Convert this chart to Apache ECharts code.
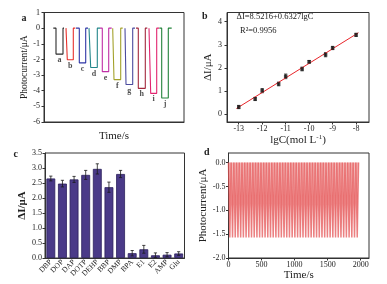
<!DOCTYPE html>
<html>
<head>
<meta charset="utf-8">
<script src="https://cdn.jsdelivr.net/npm/echarts@6/dist/echarts.min.js"></script>
<style>
  html, body { margin: 0; padding: 0; background: #fff; }
  #chart { width: 387px; height: 284px; }
</style>
</head>
<body>
<div id="chart"></div>
<script>
// panel a: photocurrent steps (time axis in arbitrary units)
const aLetters = ['a', 'b', 'c', 'd', 'e', 'f', 'g', 'h', 'i', 'j'];
const aStart = [9.3, 22, 32, 45, 56, 68.7, 81, 92, 105, 115.3];
const aOn = [12, 23.3, 35.3, 46.7, 58.3, 70, 82, 94.3, 106.7, 117.7];
const aOff = [19, 29.3, 41.7, 53.3, 64.7, 76.7, 88.7, 101.3, 112.7, 124.3];
const aEnd = [20, 31.3, 44, 56, 67.7, 78.7, 91, 103.3, 115, 127.7];
const aLevel = [-1.66, -2.02, -2.22, -2.52, -2.78, -3.29, -3.6, -3.85, -4.17, -4.47];
const aColors = ['#2b2b2b', '#e8312c', '#2f36a6', '#23868a', '#c02fa6', '#a3a12a', '#4b4b9e', '#a2283c', '#e2246f', '#22833a'];

// panel b: calibration
const bX = [-13, -12.3, -12, -11.3, -11, -10.3, -10, -9.3, -9, -8];
const bY = [0.30, 0.65, 1.01, 1.30, 1.63, 1.95, 2.26, 2.57, 2.86, 3.43];
const bErr = [0.07, 0.07, 0.09, 0.08, 0.1, 0.08, 0.06, 0.09, 0.07, 0.07];
const bFit = { a: 8.5216, b: 0.6327, from: -13.1, to: -7.9 };

// panel c: selectivity
const cNames = ['DBP', 'DOP', 'DAP', 'DOTP', 'DEHP', 'BBP', 'DMP', 'BPA', 'E1', 'E2', 'AMP', 'Glu'];
const cVals = [2.65, 2.48, 2.62, 2.77, 2.97, 2.36, 2.80, 0.16, 0.29, 0.09, 0.11, 0.15];
const cErr = [0.08, 0.11, 0.1, 0.15, 0.17, 0.17, 0.12, 0.09, 0.13, 0.08, 0.07, 0.06];

// panel d: stability, light-on times (s)
const dOnTimes = [20, 61, 102, 143, 184, 225, 266, 307, 348, 389, 430, 471, 512, 553, 594, 635,
  676, 717, 758, 799, 840, 881, 922, 963, 1004, 1045, 1086, 1127, 1168, 1209, 1250, 1291,
  1332, 1373, 1414, 1455, 1496, 1537, 1578, 1619, 1660, 1701, 1742, 1783, 1824, 1865, 1906, 1947];
const dPulseWidth = 20;
const dLow = -1.57;

const FONT = 'Liberation Serif';
const INK = '#222';

function axisBase(gridIndex) {
    return {
        gridIndex,
        axisLine: { show: true, onZero: false, lineStyle: { color: '#333', width: 1 } },
        axisTick: { show: true, inside: false, length: 2.5, lineStyle: { color: '#333' } },
        axisLabel: { color: INK, fontFamily: FONT, fontSize: 8 },
        splitLine: { show: false },
        nameTextStyle: { color: INK, fontFamily: FONT, fontSize: 11 },
        nameLocation: 'middle'
    };
}

function errorBar(params, api) {
    const x = api.value(0);
    const top = api.coord([x, api.value(2)]);
    const bot = api.coord([x, api.value(1)]);
    const cap = 1.6;
    const style = { stroke: '#1a1a1a', lineWidth: 0.8 };
    return {
        type: 'group',
        children: [
            { type: 'line', shape: { x1: top[0], y1: top[1], x2: bot[0], y2: bot[1] }, style },
            { type: 'line', shape: { x1: top[0] - cap, y1: top[1], x2: top[0] + cap, y2: top[1] }, style },
            { type: 'line', shape: { x1: bot[0] - cap, y1: bot[1], x2: bot[0] + cap, y2: bot[1] }, style }
        ]
    };
}

const gridStyle = { show: true, borderColor: '#333', borderWidth: 1, backgroundColor: 'transparent' };

// series for a
const aSeries = aLetters.map((l, i) => ({
    type: 'line', xAxisIndex: 0, yAxisIndex: 0, symbol: 'none',
    lineStyle: { color: aColors[i], width: 1.1 },
    data: [[aStart[i], 0], [aOn[i], 0], [aOn[i], aLevel[i]], [aOff[i], aLevel[i]], [aOff[i], 0], [aEnd[i], 0]]
}));
aSeries.push({
    type: 'scatter', xAxisIndex: 0, yAxisIndex: 0, symbolSize: 0,
    data: aLetters.map((l, i) => ({ name: l, value: [(aOn[i] + aOff[i]) / 2, aLevel[i]] })),
    label: { show: true, position: 'bottom', distance: 2, formatter: p => p.name,
             color: INK, fontFamily: FONT, fontSize: 8, fontWeight: 'bold' }
});

// series for d
const dData = [[0, 0]];
dOnTimes.forEach(t => {
    dData.push([t, 0], [t, dLow], [t + dPulseWidth, dLow], [t + dPulseWidth, 0]);
});

const option = {
    animation: false,
    backgroundColor: '#fff',
    grid: [
        Object.assign({ left: 44, top: 12.5, width: 140, height: 109.5 }, gridStyle),
        Object.assign({ left: 227, top: 12.5, width: 142, height: 109.5 }, gridStyle),
        Object.assign({ left: 45, top: 153, width: 139.5, height: 105 }, gridStyle),
        Object.assign({ left: 228.5, top: 153, width: 140.5, height: 105 }, gridStyle)
    ],
    xAxis: [
        Object.assign(axisBase(0), {
            type: 'value', min: 0, max: 140, name: 'Time/s', nameGap: 9,
            axisTick: { show: false }, axisLabel: { show: false }
        }),
        Object.assign(axisBase(1), {
            type: 'value', min: -13.5, max: -7.45, name: '{t|lgC(mol L}{s|-1}{t|)}', nameGap: 9,
            nameTextStyle: { rich: {
                t: { fontFamily: FONT, fontSize: 11, color: INK },
                s: { fontFamily: FONT, fontSize: 7, color: INK, verticalAlign: 'top', padding: [0, 0, 6, 0] }
            } },
            axisTick: { show: true, length: 2.5, customValues: [-13, -12, -11, -10, -9, -8], lineStyle: { color: '#333' } },
            axisLabel: { color: INK, fontFamily: FONT, fontSize: 8, margin: 3, customValues: [-13, -12, -11, -10, -9, -8] }
        }),
        Object.assign(axisBase(2), {
            type: 'category', data: cNames,
            axisTick: { show: false },
            axisLabel: { color: INK, fontFamily: FONT, fontSize: 7.5, rotate: 45, margin: 3, interval: 0 }
        }),
        Object.assign(axisBase(3), {
            type: 'value', min: 0, max: 2125, name: 'Time/s', nameGap: 11,
            axisTick: { show: true, length: 2.5, customValues: [0, 500, 1000, 1500, 2000], lineStyle: { color: '#333' } },
            axisLabel: { color: INK, fontFamily: FONT, fontSize: 8, margin: 3,
                         customValues: [0, 500, 1000, 1500, 2000], formatter: v => String(v) }
        })
    ],
    yAxis: [
        Object.assign(axisBase(0), {
            type: 'value', min: -6, max: 1, interval: 1, name: 'Photocurrent/μA', nameGap: 14,
            nameTextStyle: { color: INK, fontFamily: FONT, fontSize: 9.5 },
            axisLabel: { color: INK, fontFamily: FONT, fontSize: 8, margin: 4 }
        }),
        Object.assign(axisBase(1), {
            type: 'value', min: -0.35, max: 4.4, name: 'ΔI/μA', nameGap: 10,
            axisTick: { show: true, length: 2.5, customValues: [0, 1, 2, 3, 4], lineStyle: { color: '#333' } },
            axisLabel: { color: INK, fontFamily: FONT, fontSize: 8, margin: 5, customValues: [0, 1, 2, 3, 4] }
        }),
        Object.assign(axisBase(2), {
            type: 'value', min: 0, max: 3.5, interval: 0.5, name: 'ΔI/μA', nameGap: 17,
            nameTextStyle: { color: INK, fontFamily: FONT, fontSize: 11, fontWeight: 'bold' },
            axisLabel: { color: INK, fontFamily: FONT, fontSize: 8, margin: 3, formatter: v => v.toFixed(1) }
        }),
        Object.assign(axisBase(3), {
            type: 'value', min: -2, max: 0.2, name: 'Photocurrent/μA', nameGap: 14,
            axisTick: { show: true, length: 2.5, customValues: [-2, -1.5, -1, -0.5, 0], lineStyle: { color: '#333' } },
            axisLabel: { color: INK, fontFamily: FONT, fontSize: 8, margin: 3,
                         customValues: [-2, -1.5, -1, -0.5, 0], formatter: v => v.toFixed(1) }
        })
    ],
    series: [
        ...aSeries,
        {
            type: 'line', xAxisIndex: 1, yAxisIndex: 1, symbol: 'none',
            lineStyle: { color: '#e8252a', width: 1 },
            data: [bFit.from, bFit.to].map(x => [x, bFit.a + bFit.b * x])
        },
        {
            type: 'custom', xAxisIndex: 1, yAxisIndex: 1, renderItem: errorBar, z: 3,
            data: bX.map((x, i) => [x, bY[i] - bErr[i], bY[i] + bErr[i]])
        },
        {
            type: 'scatter', xAxisIndex: 1, yAxisIndex: 1, symbol: 'rect', symbolSize: 3.5, z: 4,
            itemStyle: { color: '#111' },
            data: bX.map((x, i) => [x, bY[i]])
        },
        {
            type: 'bar', xAxisIndex: 2, yAxisIndex: 2, barWidth: '76%',
            itemStyle: { color: '#4a3a88', borderColor: '#2b1f5c', borderWidth: 0.8 },
            data: cVals
        },
        {
            type: 'custom', xAxisIndex: 2, yAxisIndex: 2, renderItem: errorBar, z: 3,
            data: cVals.map((v, i) => [i, v - cErr[i], v + cErr[i]])
        },
        {
            type: 'line', xAxisIndex: 3, yAxisIndex: 3, symbol: 'none',
            lineStyle: { color: 'rgba(228, 78, 80, 0.7)', width: 1.5 },
            areaStyle: { origin: 0, color: 'rgba(234, 130, 130, 0.8)' },
            data: dData
        }
    ],
    graphic: [
        { type: 'text', left: 21.5, top: 13, style: { text: 'a', font: 'bold 10px "Liberation Serif"', fill: INK } },
        { type: 'text', left: 202, top: 11, style: { text: 'b', font: 'bold 10px "Liberation Serif"', fill: INK } },
        { type: 'text', left: 13.5, top: 149, style: { text: 'c', font: 'bold 10px "Liberation Serif"', fill: INK } },
        { type: 'text', left: 204, top: 147, style: { text: 'd', font: 'bold 10px "Liberation Serif"', fill: INK } },
        { type: 'text', left: 236.5, top: 12, style: { text: 'ΔI=8.5216+0.6327lgC', font: '8.5px "Liberation Serif"', fill: INK } },
        { type: 'text', left: 240, top: 26, style: { text: 'R²=0.9956', font: '8.5px "Liberation Serif"', fill: INK } }
    ]
};

const chart = echarts.init(document.getElementById('chart'), null, { renderer: 'canvas' });
chart.setOption(option);
</script>
</body>
</html>
